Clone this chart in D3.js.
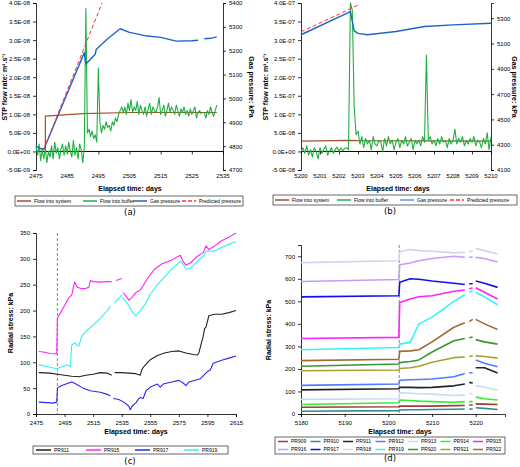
<!DOCTYPE html>
<html>
<head>
<meta charset="utf-8">
<script src="https://cdn.jsdelivr.net/npm/d3@7"></script>
<style>
  body { margin: 0; background: #fff; }
  svg { font-family: "Liberation Sans", Arial, sans-serif; }
  .tick text { font-size: 6px; fill: #000; }
  .title { font-size: 7px; font-weight: bold; }
  .leg { font-size: 5px; }
  .cap { font-size: 8.5px; font-family: "DejaVu Sans", sans-serif; }
</style>
</head>
<body>
<svg id="chart" width="520" height="467"></svg>
<script>
// ---------- panel (a) ----------
var aTicksX = [2475, 2485, 2495, 2505, 2515, 2525, 2535];
var aTicksL = [-5e-9, 0, 5e-9, 1e-8, 1.5e-8, 2e-8, 2.5e-8, 3e-8, 3.5e-8, 4e-8];
var aTicksR = [4700, 4800, 4900, 5000, 5100, 5200, 5300, 5400];
var aSystem = [[2478, 0], [2478, 9.5e-9], [2490, 1.02e-8], [2505, 1.05e-8], [2533, 1.05e-8]];
var aPressure = [[2475, 4799], [2476.5, 4790], [2477.5, 4787], [2490.5, 5192], [2491, 5144], [2494, 5185], [2494.3, 5205],
  [2498, 5250], [2502, 5292], [2505, 5277], [2510, 5263], [2515, 5256], [2520, 5240], [2525, 5242], [2527, 5244], [2528, null],
  [2529, 5250], [2531, 5252], [2533, 5258]];
var aPredicted = [[2477.5, 4787], [2496.2, 5400]];
// flow into buffer, units of 1e-9 m3/s, every 0.5 day from 2475
var aBufferStart = 2475, aBufferStep = 0.5;
var aBuffer = [1.5, -1, 2, -2.5, 0.5, -2, 1, -3, 0, -1.5, 1.5, -2, 2.5, -0.5, 1, -2, 0.5, 2, -1, 1.5, -0.5, 2.5, 0, -1.5, 3, -1, 1, -2, 2, 0.5, -3, 1,
  38.5, 5, 6, 4, 5.5, 3.5, 4.5, 2.5, 22.5, 8, 5, 7, 6, 8, 6.5, 7, 5.5, 8, 7, 9, 8, 10, 11, 12, 10.5,
  12, 10, 13, 11, 14, 10.5, 12, 11, 13.5, 10, 12.5, 11, 10, 12, 9.5, 11.5, 13, 10, 12, 11, 10.5, 12, 14.5, 10, 11, 12.5, 9.5, 11, 13, 10.5,
  12, 11, 10, 12.5, 11, 9.5, 11.5, 10.5, 12, 10, 11, 9.5, 11.5, 10, 11, 12, 9, 10.5, 11, 10, null,
  10.5, 9, 11, 10, 12, 10.5, 9.5, 11, 12.5];

// ---------- panel (b) ----------
var bTicksX = d3.range(5200, 5211, 1);
var bTicksL = [-5e-8, 0, 5e-8, 1e-7, 1.5e-7, 2e-7, 2.5e-7, 3e-7, 3.5e-7, 4e-7];
var bTicksR = [4100, 4300, 4500, 4700, 4900, 5100, 5300];
var bSystem = [[5200, 2.8e-8], [5202.5, 3.0e-8], [5203, 2.9e-8], [5210, 2.8e-8]];
var bPressure = [[5200, 5169], [5202.6, 5352], [5202.8, 5200], [5203, 5180], [5203.5, 5169], [5205, 5195], [5206.5, 5234], [5208, 5247], [5210, 5260]];
var bPredicted = [[5200, 5192], [5203.1, 5410]];
// flow into buffer, units of 1e-8 m3/s, every 0.1 day from 5200
var bBufferStart = 5200, bBufferStep = 0.1;
var bBuffer = [0, 1, -0.5, 1.5, -1, 0.5, -1.5, 1, 0, -2, 1, -0.5, 0.5, 1.5, -1, 0, 1, -0.5, 0.5, 1.2, 0, 1, 0.2, 0.8, 1, 0.5,
  40, 38, 12, 4.5, 5.5,
  2, 4, 1, 3.5, 2, 3, 0.5, 4, 2, 1.5, 3, 2.5, 0, 3.5, 1.5, 4, 2, 3, 0.5, 2.5, 3.5, 1, 3, 2, 4, 1.5, 2.5, 3.5, 0.5, 3, 2, 3, 1.5, 4, 2.5,
  26, 3,
  4, 2, 3, 1.5, 3.5, 2, 4, 2.5, 3, 1, 3.5, 2, 3, 6, 2, 3.5, 2.5, 4, 1.5, 3, 2, 3.5, 2.5, 4, 1.5, 3, 2.5, 1, 3.5, 2, 5, 0.5, 4];

// ---------- panel (c) ----------
var cTicksX = d3.range(2475, 2616, 20);
var cTicksY = d3.range(0, 351, 50);
var cEvent = 2490;
var cPR911 = [[2477, 80], [2485, 79], [2490, 77], [2495, 75], [2500, 73], [2505, 72], [2510, 75], [2515, 77], [2520, 80], [2525, 79], [2528, 75], [2529, null],
  [2530, 80], [2535, 80], [2540, 79], [2545, 78], [2548, 75], [2549, 85], [2550, 90], [2555, 105], [2560, 113], [2565, 118], [2570, 121], [2575, 122],
  [2580, 118], [2585, 115], [2588, 114], [2589, 118], [2592, 150], [2593, 165], [2594, 168], [2596, 190], [2600, 193], [2605, 193], [2610, 196], [2615, 200]];
var cPR915 = [[2477, 121], [2480, 120], [2485, 117], [2489.5, 116], [2490, 185], [2492, 195], [2495, 210], [2498, 225], [2500, 230], [2502, 255], [2504, 245],
  [2507, 242], [2510, 243], [2512, 245], [2513, 258], [2515, 256], [2520, 255], [2525, 256], [2528, 256], [2529, null], [2531, 258], [2535, 262], [2535.5, null],
  [2536, 235], [2538, 228], [2540, 220], [2542, 225], [2545, 235], [2548, 240], [2550, 248], [2553, 262], [2558, 280], [2563, 290], [2570, 298], [2576, 307],
  [2578, 295], [2580, 288], [2583, 292], [2588, 305], [2592, 312], [2594, 325], [2596, 318], [2600, 325], [2605, 335], [2610, 342], [2615, 350]];
var cPR917 = [[2477, 23], [2483, 22], [2487, 21], [2489.5, 23], [2490, 50], [2493, 55], [2498, 60], [2500, 62], [2503, 58], [2508, 50], [2513, 45], [2520, 42],
  [2525, 38], [2527, 35], [2528, null], [2529, 30], [2533, 28], [2537, 22], [2540, 15], [2541, 8], [2542, 14], [2545, 22], [2547, 30], [2548, 32], [2550, 30],
  [2552, 45], [2555, 52], [2560, 58], [2562, 52], [2564, 58], [2570, 62], [2575, 65], [2578, 60], [2580, 55], [2582, 62], [2590, 68], [2595, 82], [2597, 85],
  [2599, 98], [2605, 104], [2610, 108], [2615, 112]];
var cPR919 = [[2477, 95], [2483, 92], [2487, 89], [2490, 88], [2494, 92], [2497, 95], [2499, 92], [2500, 133], [2502, 138], [2504, 132], [2505, 132], [2507, 150],
  [2510, 160], [2515, 172], [2520, 185], [2525, 200], [2527, 208], [2528, null], [2530, 215], [2535, 230], [2535.3, null], [2535.5, 225], [2540, 210], [2543, 195],
  [2545, 190], [2548, 200], [2552, 215], [2555, 232], [2560, 250], [2565, 265], [2570, 280], [2576, 295], [2578, 290], [2580, 280], [2583, 282], [2588, 295],
  [2592, 305], [2594, 315], [2600, 315], [2605, 322], [2610, 328], [2615, 333]];

// ---------- panel (d) ----------
var dTicksX = [5180, 5190, 5200, 5210, 5220];
var dTicksY = d3.range(0, 701, 100);
var dEvent = 5202.5;
var dNames = ["PR909", "PR910", "PR911", "PR912", "PR913", "PR914", "PR915", "PR916", "PR917", "PR918", "PR919", "PR920", "PR921", "PR922"];
var dColors = ["#a33a3a", "#2f8f8f", "#222222", "#4f7bff", "#c6dcf2", "#33ee33", "#ff22ff", "#c69cf5", "#1010ee", "#d2d2f5", "#33f5f5", "#339933", "#a3a333", "#a06a33"];
// each row sampled at the days in dDays
var dDays = [5180, 5202.4, 5202.6, 5205, 5207, 5210, 5215, 5217.5, 5218, 5218.5, 5219.3, 5219.6, 5220, 5222, 5225];
var dValues = [
  [30, 32, 35, 35, 35, 35, 37, 38, null, 40, 40, null, 45, 44, 42],
  [12, 15, 18, 19, 19, 20, 21, 22, null, 22, 22, null, 28, 25, 20],
  [107, 112, 118, 118, 117, 118, 125, 133, null, 140, 138, null, 205, 205, 182],
  [127, 133, 150, 152, 153, 155, 165, 180, null, 183, 183, null, 240, 225, 210],
  [65, 68, 95, 92, 90, 88, 82, 85, null, 92, 90, null, 125, 120, 105],
  [42, 50, 62, 60, 57, 55, 52, 55, null, 55, 55, null, 75, 68, 62],
  [335, 340, 495, 510, 520, 525, 545, 550, null, 555, 560, null, 560, 540, 510],
  [588, 597, 662, 670, 680, 690, 700, 695, null, 695, 697, null, 695, 690, 675],
  [520, 525, 585, 600, 598, 590, 580, 575, null, 578, 578, null, 590, 580, 562],
  [672, 680, 720, 730, 725, 722, 715, 718, null, 720, 722, null, 735, 725, 710],
  [285, 295, 310, 318, 400, 430, 500, 530, null, 540, 548, null, 540, 520, 485],
  [212, 222, 228, 233, 240, 275, 325, 335, null, 338, 342, null, 330, 320, 310],
  [192, 195, 202, 205, 212, 230, 250, 253, null, 255, 258, null, 258, 255, 248],
  [237, 243, 278, 280, 285, 320, 385, 405, null, 410, 420, null, 420, 400, 375]
];

var svg = d3.select("#chart");

function sciFmt(v) {
  if (v === 0) return "0.0E+00";
  var e = Math.floor(Math.log10(Math.abs(v)) + 1e-9);
  var m = v / Math.pow(10, e);
  return m.toFixed(1) + "E" + (e < 0 ? "-" : "+") + String(Math.abs(e)).padStart(2, "0");
}

function styleAxis(g) {
  g.selectAll("path, line").attr("stroke", "#000").attr("stroke-width", 0.8);
}

function drawLine(g, data, x, y, color, width, dash) {
  var line = d3.line()
    .defined(function (d) { return d[1] !== null; })
    .x(function (d) { return x(d[0]); })
    .y(function (d) { return y(d[1]); });
  g.append("path").datum(data)
    .attr("d", line)
    .attr("fill", "none")
    .attr("stroke", color)
    .attr("stroke-width", width)
    .attr("stroke-dasharray", dash || null)
    .attr("stroke-linejoin", "round");
}

function vTitle(x, y, text, rot) {
  svg.append("text").attr("class", "title")
    .attr("transform", "translate(" + x + "," + y + ") rotate(" + rot + ")")
    .attr("text-anchor", "middle").text(text);
}

function hTitle(x, y, text) {
  svg.append("text").attr("class", "title").attr("x", x).attr("y", y)
    .attr("text-anchor", "middle").text(text);
}

function caption(x, y, text) {
  svg.append("text").attr("class", "cap").attr("x", x).attr("y", y)
    .attr("text-anchor", "middle").text(text);
}

function legend(x0, y0, w, h, items) {
  svg.append("rect").attr("x", x0).attr("y", y0).attr("width", w).attr("height", h)
    .attr("fill", "none").attr("stroke", "#000").attr("stroke-width", 0.6);
  items.forEach(function (it) {
    svg.append("line").attr("x1", it.x).attr("x2", it.x + it.len).attr("y1", it.y).attr("y2", it.y)
      .attr("stroke", it.color).attr("stroke-width", 1.5).attr("stroke-dasharray", it.dash || null);
    svg.append("text").attr("class", "leg").attr("x", it.x + it.len + 3).attr("y", it.y + 1.8).text(it.name);
  });
}

function flowPanel(cfg) {
  var x = d3.scaleLinear().domain(cfg.xDomain).range([cfg.L, cfg.R]);
  var yL = d3.scaleLinear().domain(cfg.lDomain).range([cfg.B, cfg.T]);
  var yR = d3.scaleLinear().domain(cfg.rDomain).range([cfg.B, cfg.T]);
  var g = svg.append("g");

  g.append("g").attr("transform", "translate(" + cfg.L + ",0)")
    .call(d3.axisLeft(yL).tickValues(cfg.lTicks).tickFormat(sciFmt).tickSize(3)).call(styleAxis);
  g.append("g").attr("transform", "translate(" + cfg.R + ",0)")
    .call(d3.axisRight(yR).tickValues(cfg.rTicks).tickFormat(d3.format("d")).tickSize(3)).call(styleAxis);
  // zero line with ticks, labels at bottom
  var xa = g.append("g").attr("transform", "translate(0," + yL(0) + ")")
    .call(d3.axisBottom(x).tickValues(cfg.xTicks).tickFormat("").tickSize(3)).call(styleAxis);
  xa.select(".domain").remove();
  g.append("line").attr("x1", cfg.L).attr("x2", cfg.R).attr("y1", yL(0)).attr("y2", yL(0))
    .attr("stroke", "#000").attr("stroke-width", 1);
  g.selectAll(".xlab").data(cfg.xTicks).enter().append("text")
    .attr("x", function (d) { return x(d); }).attr("y", cfg.B + 8)
    .attr("text-anchor", "middle").style("font-size", "6px").text(function (d) { return d; });

  var buffer = cfg.buffer.map(function (v, i) {
    return [cfg.bufStart + i * cfg.bufStep, v === null ? null : v * cfg.bufUnit];
  });
  drawLine(g, cfg.system, x, yL, "#a0522d", 1.2);
  drawLine(g, buffer, x, yL, "#1fb040", 1.1);
  drawLine(g, cfg.pressure, x, yR, "#1e64c8", 1.4);
  drawLine(g, cfg.predicted, x, yR, "#ff3030", 1, "4,2.5");
}

flowPanel({
  L: 36, R: 223, T: 3, B: 170,
  xDomain: [2475, 2535], lDomain: [-5e-9, 4e-8], rDomain: [4700, 5400],
  xTicks: aTicksX, lTicks: aTicksL, rTicks: aTicksR,
  system: aSystem, pressure: aPressure, predicted: aPredicted,
  buffer: aBuffer, bufStart: aBufferStart, bufStep: aBufferStep, bufUnit: 1e-9
});
hTitle(130, 191, "Elapsed time: days");
vTitle(7, 87, "STP flow rate: m³.s⁻¹", -90);
vTitle(249, 87, "Gas pressure: kPa", 90);
legend(15, 196, 228, 10, [
  { x: 17, y: 201, len: 14, color: "#a0522d", name: "Flow into system" },
  { x: 83, y: 201, len: 14, color: "#1fb040", name: "Flow into buffer" },
  { x: 133, y: 201, len: 14, color: "#1e64c8", name: "Gas pressure" },
  { x: 182, y: 201, len: 14, color: "#ff3030", dash: "4,2", name: "Predicted pressure" }
]);
caption(130, 215, "(a)");

flowPanel({
  L: 301, R: 491, T: 3, B: 170,
  xDomain: [5200, 5210], lDomain: [-5e-8, 4e-7], rDomain: [4100, 5420],
  xTicks: bTicksX, lTicks: bTicksL, rTicks: bTicksR,
  system: bSystem, pressure: bPressure, predicted: bPredicted,
  buffer: bBuffer, bufStart: bBufferStart, bufStep: bBufferStep, bufUnit: 1e-8
});
hTitle(398, 191, "Elapsed time: days");
vTitle(268, 87, "STP flow rate: m³.s⁻¹", -90);
vTitle(512, 87, "Gas pressure: kPa", 90);
legend(273, 195, 244, 10, [
  { x: 275, y: 200, len: 14, color: "#a0522d", name: "Flow into system" },
  { x: 337, y: 200, len: 14, color: "#1fb040", name: "Flow into buffer" },
  { x: 400, y: 200, len: 14, color: "#5a9ae0", name: "Gas pressure" },
  { x: 450, y: 200, len: 14, color: "#ff3030", dash: "4,2", name: "Predicted pressure" }
]);
caption(390, 214, "(b)");

function stressPanel(cfg) {
  var x = d3.scaleLinear().domain(cfg.xDomain).range([cfg.L, cfg.R]);
  var y = d3.scaleLinear().domain(cfg.yDomain).range([cfg.B, cfg.T]);
  var g = svg.append("g");
  g.append("g").attr("transform", "translate(" + cfg.L + ",0)")
    .call(d3.axisLeft(y).tickValues(cfg.yTicks).tickSize(3)).call(styleAxis);
  g.append("g").attr("transform", "translate(0," + cfg.B + ")")
    .call(d3.axisBottom(x).tickValues(cfg.xTicks).tickFormat(d3.format("d")).tickSize(3).tickPadding(4)).call(styleAxis);
  g.append("line").attr("x1", x(cfg.event)).attr("x2", x(cfg.event)).attr("y1", cfg.T).attr("y2", cfg.B)
    .attr("stroke", "#999").attr("stroke-width", 1.2).attr("stroke-dasharray", "3,2");
  cfg.series.forEach(function (s) { drawLine(g, s.data, x, y, s.color, cfg.width); });
}

stressPanel({
  L: 36, R: 236, T: 233, B: 414, xDomain: [2475, 2615], yDomain: [0, 350],
  xTicks: cTicksX, yTicks: cTicksY, event: cEvent, width: 1.1,
  series: [
    { data: cPR911, color: "#222" }, { data: cPR915, color: "#ff22ff" },
    { data: cPR917, color: "#2a2aee" }, { data: cPR919, color: "#33f0f0" }
  ]
});
hTitle(136, 434, "Elapsed time: days");
vTitle(13, 323, "Radial stress: kPa", -90);
legend(33, 446, 195, 8, [
  { x: 36, y: 450, len: 15, color: "#222", name: "PR911" },
  { x: 86, y: 450, len: 15, color: "#ff22ff", name: "PR915" },
  { x: 135, y: 450, len: 15, color: "#2a2aee", name: "PR917" },
  { x: 184, y: 450, len: 15, color: "#33f0f0", name: "PR919" }
]);
caption(130, 464, "(c)");

stressPanel({
  L: 301, R: 505, T: 245, B: 414, xDomain: [5180, 5226.7], yDomain: [0, 750],
  xTicks: dTicksX, yTicks: dTicksY, event: dEvent, width: 1.6,
  series: dNames.map(function (n, i) {
    return { data: dDays.map(function (d, j) { return [d, dValues[i][j]]; }), color: dColors[i] };
  })
});
hTitle(400, 434, "Elapsed time: days");
vTitle(271, 330, "Radial stress: kPa", -90);
legend(275, 437, 230, 17, dNames.map(function (n, i) {
  return { x: 278 + (i % 7) * 32.5, y: 441.5 + Math.floor(i / 7) * 8, len: 10, color: dColors[i], name: n };
}));
caption(390, 461, "(d)");
</script>
</body>
</html>
